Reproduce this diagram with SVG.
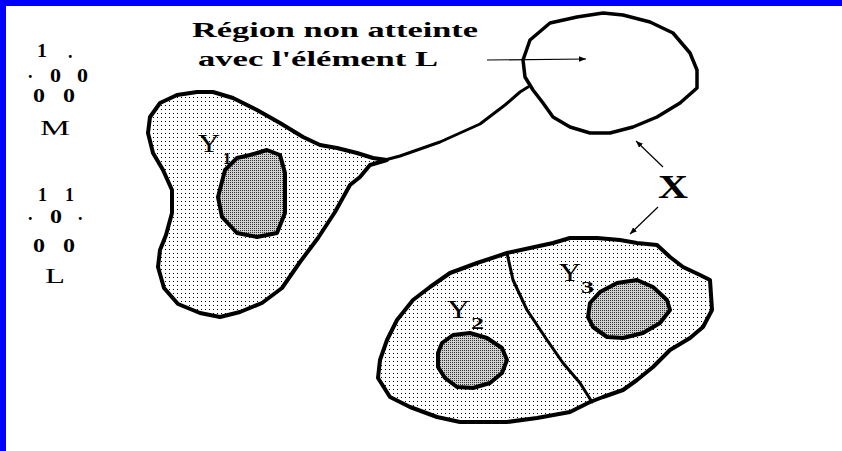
<svg xmlns="http://www.w3.org/2000/svg" width="842" height="451" viewBox="0 0 842 451">
<defs>
<pattern id="light" width="4" height="4" patternUnits="userSpaceOnUse">
<rect width="4" height="4" fill="#fff"/>
<rect x="1" y="1" width="1" height="1" fill="#000"/>
</pattern>
<pattern id="dark" width="2" height="2" patternUnits="userSpaceOnUse">
<rect width="2" height="2" fill="#d0d0d0"/>
<rect x="0" y="0" width="1" height="1" fill="#333"/>
</pattern>
<marker id="ah" viewBox="0 0 10 10" refX="10" refY="5" markerWidth="7" markerHeight="7" orient="auto" markerUnits="userSpaceOnUse">
<path d="M0,1 L10,5 L0,9 z" fill="#000"/>
</marker>
<style>
.outer{fill:url(#light);stroke:#000;stroke-width:4;stroke-linejoin:round}
.inner{fill:url(#dark);stroke:#000;stroke-width:4;stroke-linejoin:round}
.line{fill:none;stroke:#000;stroke-width:3;stroke-linejoin:round;stroke-linecap:round}
.arrow{fill:none;stroke:#000;stroke-width:1.2;marker-end:url(#ah)}
.b{font-family:"Liberation Serif","Times New Roman",serif;font-weight:bold;fill:#000}
.r{font-family:"Liberation Serif","Times New Roman",serif;fill:#000}
</style>
</defs>
<rect width="842" height="451" fill="#fff"/>
<rect x="0" y="0" width="842" height="6" fill="#0000ff"/>
<rect x="0" y="0" width="6" height="451" fill="#0000ff"/>

<g id="legend-M">
<text class="b" font-size="18" x="37" y="57" textLength="10" lengthAdjust="spacingAndGlyphs">1</text>
<text class="b" font-size="18" x="68" y="58">.</text>
<text class="b" font-size="18" x="28" y="78">.</text>
<text class="b" font-size="18" x="50" y="82" textLength="11" lengthAdjust="spacingAndGlyphs">0</text>
<text class="b" font-size="18" x="77" y="82" textLength="11" lengthAdjust="spacingAndGlyphs">0</text>
<text class="b" font-size="18" x="33" y="102" textLength="12" lengthAdjust="spacingAndGlyphs">0</text>
<text class="b" font-size="18" x="63" y="102" textLength="12" lengthAdjust="spacingAndGlyphs">0</text>
<text class="r" font-size="22" x="40" y="135" textLength="30" lengthAdjust="spacingAndGlyphs">M</text>
</g>
<g id="legend-L">
<text class="b" font-size="18" x="38" y="201" textLength="9" lengthAdjust="spacingAndGlyphs">1</text>
<text class="b" font-size="18" x="65" y="201" textLength="9" lengthAdjust="spacingAndGlyphs">1</text>
<text class="b" font-size="18" x="28" y="220">.</text>
<text class="b" font-size="18" x="50" y="223" textLength="12" lengthAdjust="spacingAndGlyphs">0</text>
<text class="b" font-size="18" x="78" y="220">.</text>
<text class="b" font-size="18" x="33" y="252" textLength="12" lengthAdjust="spacingAndGlyphs">0</text>
<text class="b" font-size="18" x="63" y="252" textLength="12" lengthAdjust="spacingAndGlyphs">0</text>
<text class="r" font-size="22" x="45" y="283" textLength="20" lengthAdjust="spacingAndGlyphs">L</text>
</g>

<g id="label-region">
<text class="b" font-size="21" x="192" y="37" textLength="286" lengthAdjust="spacingAndGlyphs">Région non atteinte</text>
<text class="b" font-size="21" x="198" y="66" textLength="240" lengthAdjust="spacingAndGlyphs">avec l'élément L</text>
</g>

<g id="connectors">
<path class="line" d="M385,160 L400,156 L440,142 L480,124 L505,105 L520,92 L528,87"/>
<line class="arrow" x1="487" y1="60" x2="586" y2="59"/>
<line class="arrow" x1="663" y1="167" x2="636" y2="141"/>
<line class="arrow" x1="658" y1="207" x2="630" y2="234"/>
</g>

<g id="Y1">
<path class="outer" d="M387,160 L370,165 L360,177 L350,185 L335,212 L318,238 L300,262 L282,288 L262,303 L240,312 L220,317 L200,313 L178,304 L164,288 L158,267 L160,250 L166,235 L172,213 L172,190 L163,170 L153,153 L148,133 L150,117 L160,103 L177,95 L197,92 L213,92 L233,98 L257,110 L280,123 L303,137 L320,145 L337,148 L357,153 L373,158 Z"/>
<path class="inner" d="M267,150 L280,155 L285,173 L285,213 L277,233 L257,237 L237,233 L222,217 L218,197 L225,170 L237,158 L250,155 Z"/>
<text class="r" font-size="26" x="198" y="152" textLength="22" lengthAdjust="spacingAndGlyphs">Y</text>
<text class="b" font-size="16" x="223" y="164" textLength="8" lengthAdjust="spacingAndGlyphs">1</text>
</g>

<g id="region-L">
<path d="M523,60 L530,40 L550,23 L577,17 L603,13 L623,15 L650,22 L673,33 L690,53 L697,70 L697,88 L680,103 L657,117 L633,127 L610,133 L590,133 L570,127 L553,117 L543,103 L533,90 L525,77 Z" fill="none" stroke="#000" stroke-width="3.5" stroke-linejoin="round"/>
</g>

<g id="Y23">
<path class="outer" d="M378,378 L380,360 L387,340 L397,320 L413,300 L430,287 L450,273 L477,263 L507,253 L530,248 L553,243 L570,238 L597,238 L620,240 L637,243 L657,245 L670,257 L683,267 L700,275 L710,280 L712,310 L703,327 L690,338 L670,350 L653,367 L637,380 L623,390 L603,397 L590,402 L570,412 L537,418 L507,422 L460,422 L437,417 L410,407 L390,397 Z"/>
<path class="line" d="M507,253 L513,280 L527,310 L547,340 L563,363 L580,383 L592,402"/>
</g>

<g id="Y2">
<path class="inner" d="M442,343 L453,335 L470,333 L487,338 L502,348 L507,360 L502,373 L490,383 L473,388 L457,387 L445,378 L438,367 L438,353 Z"/>
<text class="r" font-size="26" x="447" y="318" textLength="23" lengthAdjust="spacingAndGlyphs">Y</text>
<text class="b" font-size="16" x="471" y="329" textLength="13" lengthAdjust="spacingAndGlyphs">2</text>
</g>

<g id="Y3">
<path class="inner" d="M590,303 L600,292 L617,283 L637,280 L653,287 L667,300 L670,310 L660,323 L643,333 L623,338 L607,337 L593,327 L588,317 Z"/>
<text class="r" font-size="26" x="559" y="281" textLength="22" lengthAdjust="spacingAndGlyphs">Y</text>
<text class="b" font-size="16" x="581" y="293" textLength="13" lengthAdjust="spacingAndGlyphs">3</text>
</g>

<g id="label-X">
<text class="b" font-size="34" x="658" y="198" textLength="30" lengthAdjust="spacingAndGlyphs">X</text>
</g>
</svg>
